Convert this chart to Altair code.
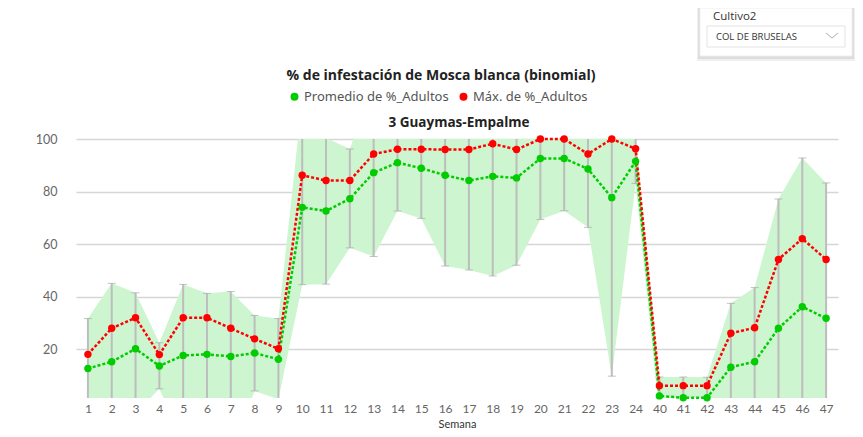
import altair as alt
import pandas as pd

semanas = [str(i) for i in range(1, 25)] + [str(i) for i in range(40, 48)]
promedio = [12.7, 15.3, 20.2, 13.7, 17.7, 18.1, 17.3, 18.6, 16.2, 74.0, 72.6, 77.3, 87.2, 91.0, 88.9, 86.2,
            84.2, 85.8, 85.2, 92.6, 92.6, 88.6, 77.7, 91.5, 2.3, 1.6, 1.6, 13.2, 15.3, 28.0, 36.2, 31.8]
maximo = [18.1, 28.0, 32.0, 18.0, 32.0, 32.0, 28.0, 24.0, 20.2, 86.2, 84.2, 84.2, 94.3, 96.1, 96.1, 96.0,
          96.0, 98.2, 96.0, 100.0, 100.0, 94.3, 100.0, 96.3, 6.2, 6.2, 6.2, 26.1, 28.2, 54.2, 62.1, 54.2]
superior = [31.7, 45.1, 41.5, 22.5, 44.7, 41.3, 42.0, 32.9, 31.7, 115.0, 100.4, 96.2, 122.0, 110.0, 108.0, 112.0,
            112.0, 115.0, 112.0, 106.0, 106.0, 104.0, 108.0, 102.0, 9.5, 9.5, 9.4, 37.5, 43.5, 77.2, 92.8, 83.3]
inferior = [-5.0, -15.0, -4.4, 5.0, -15.0, -10.0, -20.0, 4.2, 1.0, 44.6, 44.8, 58.6, 55.3, 72.6, 69.8, 51.7,
            50.2, 47.9, 52.0, 69.4, 72.7, 66.4, 9.8, 83.1, -5.0, -5.0, -5.0, -5.0, -5.0, -5.0, -5.0, -5.0]
series = ["Promedio de %_Adultos", "Máx. de %_Adultos"]
colores = ["#00cc00", "#ff0000"]

bandas = pd.DataFrame({"semana": semanas, "inf": inferior, "sup": superior})
largo = pd.DataFrame({
    "semana": semanas * 2,
    "serie": [series[0]] * len(semanas) + [series[1]] * len(semanas),
    "valor": promedio + maximo,
})

xenc = alt.X("semana:O", sort=semanas, title="Semana",
             scale=alt.Scale(type="point", padding=0.5),
             axis=alt.Axis(labelAngle=0, labelFontSize=12, labelColor="#666", labelFont="Lato",
                           labelPadding=5, titleFontSize=11, titleColor="#333", titleFont="Lato",
                           titleFontWeight="normal", titlePadding=4, domain=False, ticks=False, grid=False))
yscale = alt.Scale(domain=[1.5, 100], nice=False, zero=False)
yaxis = alt.Axis(values=[20, 40, 60, 80, 100], labelFontSize=12.5, labelColor="#666", labelFont="Lato",
                 labelPadding=19, domain=False, ticks=False, grid=True, gridColor="#d6d6d6",
                 gridWidth=1.5, title=None)

area = alt.Chart(bandas).mark_area(color="#cdf5cf", opacity=1, clip=True).encode(
    x=xenc, y=alt.Y("inf:Q", scale=yscale, axis=yaxis), y2="sup:Q")
barras = alt.Chart(bandas).mark_rule(color="#bdbdbd", strokeWidth=2, clip=True).encode(
    x=xenc, y=alt.Y("inf:Q", scale=yscale), y2="sup:Q")
tope = alt.Chart(bandas).mark_tick(color="#aaaaaa", size=8, thickness=1, clip=True).encode(
    x=xenc, y=alt.Y("sup:Q", scale=yscale))
base = alt.Chart(bandas).mark_tick(color="#aaaaaa", size=8, thickness=1, clip=True).encode(
    x=xenc, y=alt.Y("inf:Q", scale=yscale))

linea_prom = alt.Chart(largo).transform_filter(alt.datum.serie == series[0]).mark_line(
    strokeDash=[3, 2], strokeWidth=2.5, color=colores[0]).encode(
    x=xenc, y=alt.Y("valor:Q", scale=yscale))
linea_max = alt.Chart(largo).transform_filter(alt.datum.serie == series[1]).mark_line(
    strokeDash=[3, 2], strokeWidth=2.5, color=colores[1]).encode(
    x=xenc, y=alt.Y("valor:Q", scale=yscale))
puntos = alt.Chart(largo).mark_point(filled=True, size=55, opacity=1).encode(
    x=xenc, y=alt.Y("valor:Q", scale=yscale),
    color=alt.Color("serie:N", scale=alt.Scale(domain=series, range=colores),
                    legend=alt.Legend(orient="none", legendX=212, legendY=-49, direction="horizontal",
                                      title=None, symbolType="circle", symbolSize=64,
                                      symbolStrokeWidth=0, labelFontSize=13, labelFont="Noto Sans",
                                      labelColor="#555", columnPadding=8, labelOffset=3)))

uno = pd.DataFrame({"k": [0]})
titulo = alt.Chart(uno).mark_text(text="% de infestación de Mosca blanca (binomial)", font="Open Sans",
                                  fontSize=14, fontWeight="bold", color="#222").encode(
    x=alt.value(365), y=alt.value(-63))
subtitulo = alt.Chart(uno).mark_text(text="3 Guaymas-Empalme", font="Open Sans", fontSize=13.5,
                                     fontWeight="bold", color="#222").encode(
    x=alt.value(383), y=alt.value(-16))

sombra1 = alt.Chart(uno).mark_rect(fill="#000", opacity=0.06).encode(
    x=alt.value(621), x2=alt.value(779), y=alt.value(-131), y2=alt.value(-78))
sombra2 = alt.Chart(uno).mark_rect(fill="#000", opacity=0.08).encode(
    x=alt.value(622), x2=alt.value(778), y=alt.value(-131), y2=alt.value(-80))
tarjeta = alt.Chart(uno).mark_rect(fill="white", stroke="#eeeeee").encode(
    x=alt.value(624), x2=alt.value(776), y=alt.value(-131), y2=alt.value(-83))
caja = alt.Chart(uno).mark_rect(fill="white", stroke="#e3e3e3").encode(
    x=alt.value(631), x2=alt.value(769), y=alt.value(-113), y2=alt.value(-92))
etiqueta = alt.Chart(uno).mark_text(text="Cultivo2", font="Open Sans", fontSize=11.5, color="#333",
                                    align="left", baseline="middle").encode(
    x=alt.value(637), y=alt.value(-122))
valor = alt.Chart(uno).mark_text(text="COL DE BRUSELAS", font="Open Sans", fontSize=9.5, color="#333",
                                 align="left", baseline="middle").encode(
    x=alt.value(640), y=alt.value(-102))
chev1 = alt.Chart(uno).mark_rule(color="#b0b0b0", strokeWidth=1).encode(
    x=alt.value(750), x2=alt.value(756), y=alt.value(-106), y2=alt.value(-101))
chev2 = alt.Chart(uno).mark_rule(color="#b0b0b0", strokeWidth=1).encode(
    x=alt.value(756), x2=alt.value(762), y=alt.value(-101), y2=alt.value(-106))

chart = alt.layer(
    area, barras, tope, base, linea_prom, linea_max, puntos, titulo, subtitulo,
    sombra1, sombra2, tarjeta, caja, etiqueta, valor, chev1, chev2
).properties(
    width=762, height=259,
    padding={"left": 68, "top": 131, "right": 17, "bottom": 30},
    autosize=alt.AutoSizeParams(type="none"),
).configure_view(stroke=None)

chart.save("out.html", embed_options={"renderer": "svg", "actions": False})
